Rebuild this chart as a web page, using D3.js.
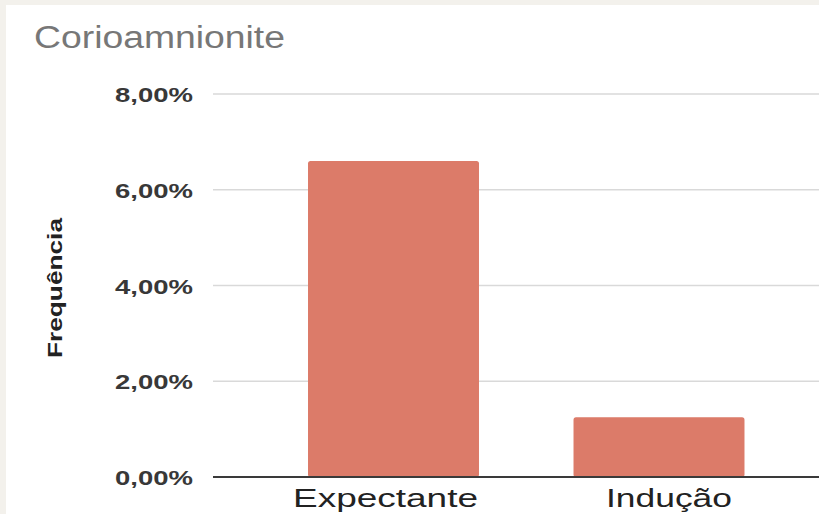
<!DOCTYPE html>
<html>
<head>
<meta charset="utf-8">
<script src="https://cdn.jsdelivr.net/npm/d3@7"></script>
<style>
  html, body { margin: 0; padding: 0; background: #f3f1ec; }
  svg { display: block; }
</style>
</head>
<body>
<svg id="chart" width="819" height="514"></svg>
<script>
// Chart data
const categories = ["Expectante", "Indução"];
const frequencies = [0.066, 0.0125];
const yTicks = [0, 0.02, 0.04, 0.06, 0.08];
const chartTitle = "Corioamnionite";
const yAxisTitle = "Frequência";

const W = 819, H = 514;
const svg = d3.select("#chart");

// white card, offset by a thin frame on the top and left
svg.append("rect").attr("x", 6).attr("y", 5).attr("width", W - 6).attr("height", H - 5).attr("fill", "#ffffff");

const plotLeft = 213, plotRight = W;
const y = d3.scaleLinear().domain([0, 0.08]).range([477, 94]);
const x = d3.scaleBand().domain(categories).range([260.75, 791.75]).paddingInner(0.356).paddingOuter(0.178);

const fmt = v => d3.format(".2f")(v * 100).replace(".", ",") + "%";
const font = "'Liberation Sans', Arial, sans-serif";

// gridlines
svg.append("g").selectAll("line").data(yTicks.filter(t => t > 0)).join("line")
  .attr("x1", plotLeft).attr("x2", plotRight)
  .attr("y1", d => y(d)).attr("y2", d => y(d))
  .attr("stroke", "#d9d9d9").attr("stroke-width", 1.5);

// bars
svg.append("g").selectAll("rect").data(categories).join("rect")
  .attr("x", d => x(d))
  .attr("width", x.bandwidth())
  .attr("y", (d, i) => y(frequencies[i]))
  .attr("height", (d, i) => y(0) - y(frequencies[i]))
  .attr("rx", 2.5)
  .attr("fill", "#dc7b69");

// baseline
svg.append("line").attr("x1", plotLeft).attr("x2", plotRight)
  .attr("y1", y(0)).attr("y2", y(0))
  .attr("stroke", "#3a3a3a").attr("stroke-width", 2);

// y tick labels
svg.append("g").selectAll("text").data(yTicks).join("text")
  .attr("x", 193).attr("y", d => y(d) + 8)
  .attr("text-anchor", "end")
  .attr("font-family", font).attr("font-size", 20).attr("font-weight", "bold")
  .attr("fill", "#383838")
  .attr("textLength", 78).attr("lengthAdjust", "spacingAndGlyphs")
  .text(fmt);

// x category labels, sized to fixed widths under each bar
const xLabelWidths = { "Expectante": 185, "Indução": 126 };
svg.append("g").selectAll("text").data(categories).join("text")
  .attr("x", d => x(d) + x.bandwidth() / 2 - xLabelWidths[d] / 2 + (d === "Indução" ? 10 : -8))
  .attr("y", 507)
  .attr("font-family", font).attr("font-size", 26)
  .attr("fill", "#222222")
  .attr("textLength", d => xLabelWidths[d]).attr("lengthAdjust", "spacingAndGlyphs")
  .text(d => d);

// title
svg.append("text")
  .attr("x", 34).attr("y", 48)
  .attr("font-family", font).attr("font-size", 31)
  .attr("fill", "#777777")
  .attr("textLength", 251).attr("lengthAdjust", "spacingAndGlyphs")
  .text(chartTitle);

// y axis title
svg.append("text")
  .attr("transform", "translate(62,288) rotate(-90)")
  .attr("x", -70).attr("y", 0)
  .attr("font-family", font).attr("font-size", 21).attr("font-weight", "bold")
  .attr("fill", "#222222")
  .attr("textLength", 140).attr("lengthAdjust", "spacingAndGlyphs")
  .text(yAxisTitle);
</script>
</body>
</html>
